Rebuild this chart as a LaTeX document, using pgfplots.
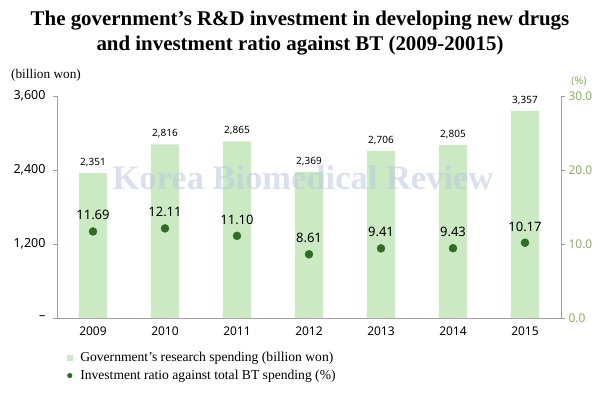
\documentclass[border=0pt]{standalone}
\usepackage{pgfplots}
\pgfplotsset{compat=1.18}
\usepackage{fontspec}
\setmainfont{Liberation Serif}
\newfontfamily\sansf{Noto Sans}
\definecolor{barcol}{HTML}{CBE9C3}
\definecolor{dotcol}{HTML}{2F6E22}
\definecolor{rgreen}{HTML}{86B25A}
\definecolor{axgray}{HTML}{A0A0A0}
\definecolor{wm}{HTML}{B9C9DD}
\begin{document}
\begin{tikzpicture}[x=1pt,y=1pt]
\useasboundingbox (0,0) rectangle (600,397);
\node[font=\fontsize{20.9}{22}\selectfont\bfseries] at (300,376) {The government’s R\&D investment in developing new drugs};
\node[font=\fontsize{20.9}{22}\selectfont\bfseries] at (300,351) {and investment ratio against BT (2009-20015)};
\node[font=\fontsize{13.3}{15}\selectfont] at (46,322) {(billion won)};
\node[font=\sansf\fontsize{10.5}{12}\selectfont, text=rgreen] at (579,315) {(\%)};
\begin{axis}[at={(57pt,79pt)}, anchor=south west, scale only axis,
  width=504pt, height=222pt,
  xmin=-0.5, xmax=6.5, ymin=0, ymax=3600,
  axis y line*=left, axis x line*=bottom,
  axis line style={axgray, line width=0.8pt},
  /pgf/number format/assume math mode=true,
  ytick={0,1200,2400,3600},
  yticklabels={–,{1,200},{2,400},{3,600}},
  yticklabel style={font=\sansf\fontsize{12.5}{14}\selectfont, text=black, xshift=-4pt},
  ytick style={axgray, line width=0.8pt},
  tick align=outside, major tick length=4pt,
  xtick={0,...,6},
  xticklabels={2009,2010,2011,2012,2013,2014,2015},
  xticklabel style={font=\sansf\fontsize{12}{14}\selectfont\bfseries, yshift=-1pt},
  x tick style={draw=none},
  extra x ticks={0.5,1.5,2.5,3.5,4.5,5.5},
  extra x tick labels={},
  extra x tick style={tick style={axgray, line width=0.8pt, draw=axgray}, major tick length=4pt},
  clip=false,
]
\addplot[ybar, bar width=28pt, fill=barcol, draw=none,
  point meta=explicit symbolic,
  nodes near coords, every node near coord/.append style={font=\sansf\fontsize{10}{11}\selectfont, text=black, yshift=3pt}]
  coordinates {(0,2351)[2,351] (1,2816)[2,816] (2,2865)[2,865] (3,2369)[2,369] (4,2706)[2,706] (5,2805)[2,805] (6,3357)[3,357]};
\end{axis}
\node[font=\fontsize{34.5}{37}\selectfont\bfseries, text=wm, opacity=0.55] at (303,219) {Korea Biomedical Review};
\begin{axis}[at={(57pt,79pt)}, anchor=south west, scale only axis,
  width=504pt, height=222pt,
  xmin=-0.5, xmax=6.5, ymin=0, ymax=30,
  axis y line*=right, axis x line=none,
  axis line style={axgray, line width=0.8pt},
  /pgf/number format/assume math mode=true,
  ytick={0,10,20,30},
  yticklabels={0.0,10.0,20.0,30.0},
  yticklabel style={font=\sansf\fontsize{12}{14}\selectfont, text=rgreen},
  ytick style={axgray, line width=0.8pt},
  tick align=outside, major tick length=4pt,
  clip=false,
  legend style={at={(0.0198,-0.135)}, anchor=north west, draw=none, fill=none,
    inner xsep=0pt, font=\fontsize{13.6}{15}\selectfont, row sep=3pt},
  legend cell align=left,
]
\addlegendimage{legend image code/.code={\path[draw=none,fill=none] (0pt,-0.5pt) rectangle (10pt,0.5pt); \fill[barcol,draw=none] (0pt,-3pt) rectangle (6pt,3pt);}}
\addlegendentry{Government’s research spending (billion won)}
\addplot[only marks, mark=*, mark size=4pt, color=dotcol,
  point meta=explicit symbolic,
  nodes near coords, every node near coord/.append style={font=\sansf\fontsize{13}{15}\selectfont, text=black, yshift=8pt},
  legend image code/.code={\path[draw=none,fill=none] (0pt,-0.5pt) rectangle (11pt,0.5pt); \fill[dotcol,draw=none] (2.5pt,0pt) circle (2.6pt);}]
  coordinates {(0,11.69)[11.69] (1,12.11)[12.11] (2,11.10)[11.10] (3,8.61)[8.61] (4,9.41)[9.41] (5,9.43)[9.43] (6,10.17)[10.17]};
\addlegendentry{Investment ratio against total BT spending (\%)}
\end{axis}
\end{tikzpicture}
\end{document}
